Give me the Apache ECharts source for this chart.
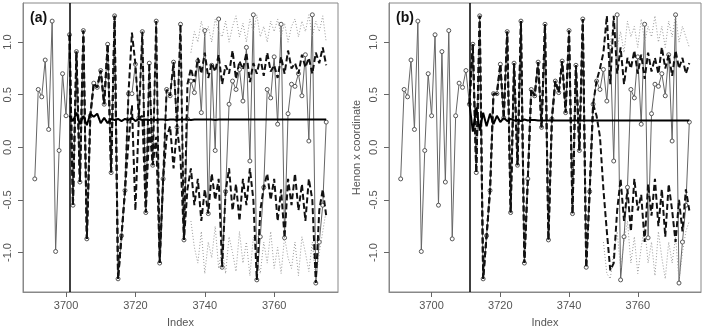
<!DOCTYPE html>
<html>
<head>
<meta charset="utf-8">
<script src="https://cdn.jsdelivr.net/npm/echarts@6/dist/echarts.min.js"></script>
<style>
  html, body { margin: 0; padding: 0; background: #fff; }
  #chart { width: 705px; height: 327px; }
</style>
</head>
<body>
<div id="chart"></div>
<script>
// observed Henon x series, index 3691..3775
const startIndex = 3691
const observed = [
  -0.30, 0.55, 0.48, 0.83, 0.17, 1.20, -0.99, -0.03, 0.70, 0.30,
  1.07, -0.55, 0.91, -0.33, 1.11, -0.87, 0.30, 0.61, 0.57, 0.73,
  0.41, 0.98, -0.24, 1.25, -1.25, -0.84, -0.41, 0.51, 0.51, 0.79,
  0.28, 1.10, -0.62, 0.80, -0.17, 1.20, -1.10, -0.30, 0.55, 0.49,
  0.81, 0.19, 1.17, -0.88, 0.27, 0.63, 0.52, 0.82, 0.33, 1.11,
  -0.63, 0.78, -0.03, 1.22, -1.14, -0.42, 0.41, 0.63, 0.55, 0.74,
  0.44, 0.95, -0.13, 1.26, -1.26, -0.85, -0.38, 0.55, 0.47, 0.86,
  0.22, 1.17, -0.86, 0.32, 0.60, 0.58, 0.70, 0.49, 0.88, 0.06,
  1.26, -1.29, -0.90, -0.55, 0.24
]

// panel (a): forecasts from 3701
const originA = 3701
const meanA = [
  0.30, 0.25, 0.33, 0.22, 0.30, 0.21, 0.32, 0.29, 0.32, 0.23,
  0.28, 0.23, 0.27, 0.26, 0.27, 0.25, 0.27, 0.26, 0.28, 0.25,
  0.27, 0.26, 0.265, 0.26, 0.265, 0.26, 0.265, 0.265, 0.26, 0.265,
  0.265, 0.26, 0.265, 0.265, 0.265, 0.26, 0.265, 0.265, 0.265, 0.265,
  0.265, 0.265, 0.26, 0.265, 0.265, 0.265, 0.265, 0.265, 0.265, 0.265,
  0.265, 0.265, 0.265, 0.265, 0.265, 0.265, 0.265, 0.265, 0.265, 0.265,
  0.265, 0.265, 0.265, 0.265, 0.265, 0.265, 0.265, 0.265, 0.265, 0.265,
  0.265, 0.265, 0.265, 0.265, 0.265
]
const upperA = [
  1.07, -0.55, 0.91, -0.33, 1.11, -0.87, 0.30, 0.61, 0.57, 0.73,
  0.41, 0.98, -0.24, 1.25, -1.25, -0.84, -0.41, 0.51, 1.09, 0.79,
  0.28, 1.10, -0.62, 0.80, -0.17, 1.20, -1.10, -0.30, 0.55, 0.49,
  0.81, 0.19, 1.17, -0.88, 0.60, 0.75, 0.62, 0.85, 0.70, 0.90,
  0.66, 0.80, 0.72, 0.88, 0.60, 0.78, 0.70, 0.92, 0.65, 0.82,
  0.74, 0.90, 0.62, 0.80, 0.70, 0.85, 0.68, 0.90, 0.72, 0.78,
  0.66, 0.86, 0.70, 0.92, 0.75, 0.80, 0.70, 0.88, 0.76, 0.85,
  0.70, 0.90, 0.80, 0.95, 0.78
]
const lowerA = [
  1.07, -0.55, 0.91, -0.33, 1.11, -0.87, 0.30, 0.61, 0.57, 0.73,
  0.41, 0.98, -0.24, 1.25, -1.25, -0.84, -0.41, 0.05, 0.40, -0.60,
  0.28, 0.30, -0.62, 0.20, -0.17, 0.10, -1.10, -0.30, 0.10, 0.20,
  -0.20, 0.19, -0.10, -0.88, -0.40, -0.20, -0.55, -0.30, -0.70, -0.40,
  -0.63, -0.25, -0.50, -0.30, -1.14, -0.42, -0.20, -0.60, -0.35, -0.70,
  -0.30, -0.55, -0.20, -0.50, -1.26, -0.60, -0.38, -0.25, -0.50, -0.30,
  -0.70, -0.40, -0.86, -0.30, -0.55, -0.25, -0.60, -0.35, -0.70, -0.30,
  -0.50, -1.29, -0.60, -0.40, -0.65
]
const upper95A = [
  null, null, null, null, null, null, null, null, null, null,
  null, null, null, null, null, null, null, null, null, null,
  null, null, null, null, null, null, null, null, null, null,
  null, null, null, null, null, 0.90, 1.10, 1.00, 1.20, 1.05,
  1.15, 1.00, 1.22, 1.10, 1.05, 1.20, 1.00, 1.15, 1.25, 1.05,
  1.18, 1.00, 1.22, 1.10, 1.26, 1.05, 1.15, 1.00, 1.20, 1.10,
  1.22, 1.05, 1.18, 1.00, 1.15, 1.22, 1.05, 1.20, 1.10, 1.26,
  1.05, 1.20, 1.10, 1.25, 1.00
]
const lower95A = [
  null, null, null, null, null, null, null, null, null, null,
  null, null, null, null, null, null, null, null, null, null,
  null, null, null, null, null, null, null, null, null, null,
  null, null, null, null, null, -0.70, -0.95, -1.10, -0.80, -1.20,
  -0.90, -1.05, -0.75, -1.15, -0.95, -1.20, -0.85, -1.00, -1.18, -0.80,
  -1.10, -0.90, -1.22, -0.85, -1.05, -1.20, -0.90, -1.10, -0.80, -1.15,
  -0.95, -1.20, -0.85, -1.05, -1.15, -0.90, -1.22, -0.85, -1.00, -1.18,
  -0.90, -1.25, -1.00, -0.80, -0.60
]

// panel (b): forecasts from 3711
const originB = 3711
const meanB = [
  0.42, 0.15, 0.38, 0.16, 0.33, 0.20, 0.32, 0.22, 0.30, 0.24,
  0.28, 0.25, 0.27, 0.255, 0.26, 0.25, 0.265, 0.255, 0.26, 0.26,
  0.255, 0.255, 0.255, 0.255, 0.255, 0.255, 0.255, 0.255, 0.255, 0.255,
  0.255, 0.255, 0.255, 0.255, 0.255, 0.255, 0.255, 0.255, 0.255, 0.255,
  0.255, 0.255, 0.255, 0.255, 0.255, 0.255, 0.255, 0.255, 0.255, 0.255,
  0.255, 0.255, 0.255, 0.255, 0.255, 0.255, 0.255, 0.255, 0.255, 0.255,
  0.255, 0.255, 0.255, 0.255, 0.255
]
const upperB = [
  0.41, 0.98, -0.24, 1.25, -1.25, -0.84, -0.41, 0.51, 0.51, 0.79,
  0.28, 1.10, -0.62, 0.80, -0.17, 1.20, -1.10, -0.30, 0.55, 0.49,
  0.81, 0.19, 1.17, -0.88, 0.27, 0.63, 0.52, 0.82, 0.33, 1.11,
  -0.63, 0.78, -0.03, 1.22, -1.14, -0.42, 0.41, 0.63, 0.75, 0.90,
  1.25, 0.60, 1.25, 0.70, 0.95, 0.60, 0.85, 0.75, 0.92, 0.70,
  0.88, 0.65, 0.90, 0.72, 0.85, 0.70, 0.95, 0.75, 0.88, 0.68,
  0.92, 0.75, 0.85, 0.70, 0.80
]
const lowerB = [
  0.41, 0.98, -0.24, 1.25, -1.25, -0.84, -0.41, 0.51, 0.51, 0.79,
  0.28, 1.10, -0.62, 0.80, -0.17, 1.20, -1.10, -0.30, 0.55, 0.49,
  0.81, 0.19, 1.17, -0.88, 0.27, 0.63, 0.52, 0.82, 0.33, 1.11,
  -0.63, 0.78, -0.03, 1.22, -1.14, -0.42, 0.41, 0.30, 0.10, -0.40,
  -0.80, -1.17, -1.10, -0.60, -0.30, -0.70, -0.40, -0.80, -0.30, -0.60,
  -0.45, -0.90, -0.35, -0.65, -0.30, -0.75, -0.40, -0.85, -0.35, -0.60,
  -0.90, -0.50, -0.80, -0.40, -0.60
]
const upper95B = [
  null, null, null, null, null, null, null, null, null, null,
  null, null, null, null, null, null, null, null, null, null,
  null, null, null, null, null, null, null, null, null, null,
  null, null, null, null, null, null, null, null, null, 0.95,
  1.10, 1.00, 1.20, 0.95, 1.10, 0.90, 1.20, 1.05, 1.15, 0.95,
  1.22, 1.00, 1.15, 1.05, 1.25, 1.00, 1.15, 0.95, 1.20, 1.05,
  1.26, 1.00, 1.15, 1.05, 0.95
]
const lower95B = [
  null, null, null, null, null, null, null, null, null, null,
  null, null, null, null, null, null, null, null, null, null,
  null, null, null, null, null, null, null, null, null, null,
  null, null, null, null, null, null, null, null, null, -0.90,
  -1.20, -1.25, -1.00, -0.80, -1.15, -0.90, -0.70, -1.10, -0.85, -1.20,
  -0.95, -0.75, -1.10, -0.90, -1.22, -0.80, -1.05, -1.25, -0.90, -1.10,
  -0.85, -1.27, -1.00, -0.80, -0.70
]

const xTicks = [3700, 3720, 3740, 3760]
const yTicks = [-1.0, -0.5, 0.0, 0.5, 1.0]

function pairs (start, vals) {
  return vals.map((v, i) => [start + i, v])
}

// fixed plot boxes; outerBoundsMode 'none' stops v6 from shrinking them
const gridA = { left: 23, top: 3, width: 315, height: 289 }
const gridB = { left: 389, top: 3, width: 312, height: 289 }

function xAxisFor (gi) {
  return {
    type: 'value', gridIndex: gi, min: 3687.6, max: 3778.4,
    name: 'Index', nameLocation: 'middle', nameGap: 25,
    nameTextStyle: { color: '#555', fontSize: 11, fontFamily: 'Liberation Sans' },
    axisLine: { show: true, onZero: false, lineStyle: { color: '#888', width: 1 } },
    axisTick: { show: true, length: 5, lineStyle: { color: '#666' }, customValues: xTicks },
    axisLabel: {
      color: '#555', fontSize: 11, fontFamily: 'Liberation Sans', margin: 8,
      customValues: xTicks, formatter: v => String(v)
    },
    splitLine: { show: false }
  }
}
function yAxisFor (gi, title) {
  return {
    type: 'value', gridIndex: gi, min: -1.375, max: 1.372,
    name: title, nameLocation: 'middle', nameGap: 27, nameRotate: 90,
    nameTextStyle: { color: '#555', fontSize: 11, fontFamily: 'Liberation Sans' },
    axisLine: { show: true, onZero: false, lineStyle: { color: '#888', width: 1 } },
    axisTick: { show: true, length: 5, lineStyle: { color: '#666' }, customValues: yTicks },
    axisLabel: {
      color: '#555', fontSize: 11, fontFamily: 'Liberation Sans', rotate: 90, margin: 10,
      customValues: yTicks, formatter: v => v.toFixed(1)
    },
    splitLine: { show: false }
  }
}

function panelSeries (gi, origin, mean, upper, lower, up95, lo95) {
  const ax = { xAxisIndex: gi, yAxisIndex: gi }
  return [
    Object.assign({
      type: 'line', data: pairs(startIndex, observed),
      symbol: 'circle', symbolSize: 4, showAllSymbol: true,
      lineStyle: { color: '#666', width: 1 },
      itemStyle: { color: '#fff', borderColor: '#555', borderWidth: 1 },
      z: 2, silent: true
    }, ax),
    Object.assign({
      type: 'line', data: pairs(origin, up95), symbol: 'none',
      lineStyle: { color: '#999', width: 1, type: [1, 2] }, z: 3
    }, ax),
    Object.assign({
      type: 'line', data: pairs(origin, lo95), symbol: 'none',
      lineStyle: { color: '#999', width: 1, type: [1, 2] }, z: 3
    }, ax),
    Object.assign({
      type: 'line', data: pairs(origin, upper), symbol: 'none',
      lineStyle: { color: '#111', width: 2, type: [6, 3] }, z: 4
    }, ax),
    Object.assign({
      type: 'line', data: pairs(origin, lower), symbol: 'none',
      lineStyle: { color: '#111', width: 2, type: [6, 3] }, z: 4
    }, ax),
    Object.assign({
      type: 'line', data: pairs(origin, mean), symbol: 'none',
      lineStyle: { color: '#000', width: 2 }, z: 5,
      markLine: {
        symbol: 'none', silent: true, label: { show: false },
        lineStyle: { color: '#000', width: 1.5, type: 'solid' },
        data: [{ xAxis: origin }]
      }
    }, ax)
  ]
}

const chart = echarts.init(document.getElementById('chart'), null, { renderer: 'canvas' })
chart.setOption({
  animation: false,
  backgroundColor: '#fff',
  grid: [
    Object.assign({ show: true, borderColor: '#888', borderWidth: 1, outerBoundsMode: 'none' }, gridA),
    Object.assign({ show: true, borderColor: '#888', borderWidth: 1, outerBoundsMode: 'none' }, gridB)
  ],
  xAxis: [xAxisFor(0), xAxisFor(1)],
  yAxis: [yAxisFor(0, ''), yAxisFor(1, 'Henon x coordinate')],
  title: [
    { text: '(a)', left: 25, top: 6, textStyle: { fontSize: 14, fontWeight: 'bold', color: '#111', fontFamily: 'Liberation Sans' } },
    { text: '(b)', left: 391, top: 6, textStyle: { fontSize: 14, fontWeight: 'bold', color: '#111', fontFamily: 'Liberation Sans' } }
  ],
  series: panelSeries(0, originA, meanA, upperA, lowerA, upper95A, lower95A)
    .concat(panelSeries(1, originB, meanB, upperB, lowerB, upper95B, lower95B))
})
</script>
</body>
</html>
